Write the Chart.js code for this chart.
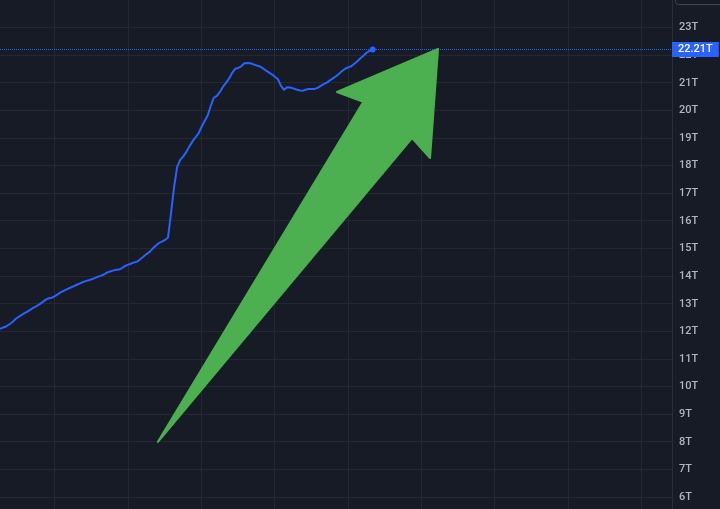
<!DOCTYPE html>
<html>
<head>
<meta charset="utf-8">
<script src="https://cdn.jsdelivr.net/npm/chart.js@4.4.1/dist/chart.umd.min.js"></script>
<style>
  html, body { margin: 0; padding: 0; background: #171b26; }
  #wrap { width: 720px; height: 509px; }
</style>
</head>
<body>
<div id="wrap"><canvas id="supplyChart" width="720" height="509"></canvas></div>
<script>
// Monthly observations, Jul 2015 - Sep 2025
const months = [
    '2015-07', '2015-08', '2015-09', '2015-10', '2015-11', '2015-12',
    '2016-01', '2016-02', '2016-03', '2016-04', '2016-05', '2016-06', '2016-07', '2016-08', '2016-09', '2016-10', '2016-11', '2016-12',
    '2017-01', '2017-02', '2017-03', '2017-04', '2017-05', '2017-06', '2017-07', '2017-08', '2017-09', '2017-10', '2017-11', '2017-12',
    '2018-01', '2018-02', '2018-03', '2018-04', '2018-05', '2018-06', '2018-07', '2018-08', '2018-09', '2018-10', '2018-11', '2018-12',
    '2019-01', '2019-02', '2019-03', '2019-04', '2019-05', '2019-06', '2019-07', '2019-08', '2019-09', '2019-10', '2019-11', '2019-12',
    '2020-01', '2020-02', '2020-03', '2020-04', '2020-05', '2020-06', '2020-07', '2020-08', '2020-09', '2020-10', '2020-11', '2020-12',
    '2021-01', '2021-02', '2021-03', '2021-04', '2021-05', '2021-06', '2021-07', '2021-08', '2021-09', '2021-10', '2021-11', '2021-12',
    '2022-01', '2022-02', '2022-03', '2022-04', '2022-05', '2022-06', '2022-07', '2022-08', '2022-09', '2022-10', '2022-11', '2022-12',
    '2023-01', '2023-02', '2023-03', '2023-04', '2023-05', '2023-06', '2023-07', '2023-08', '2023-09', '2023-10', '2023-11', '2023-12',
    '2024-01', '2024-02', '2024-03', '2024-04', '2024-05', '2024-06', '2024-07', '2024-08', '2024-09', '2024-10', '2024-11', '2024-12',
    '2025-01', '2025-02', '2025-03', '2025-04', '2025-05', '2025-06', '2025-07', '2025-08', '2025-09'
];

// Values in trillions
const supplyT = [
    12.09, 12.14, 12.18, 12.25, 12.33, 12.44,
    12.52, 12.59, 12.66, 12.72, 12.79, 12.86, 12.92, 12.99, 13.07, 13.15, 13.20, 13.22,
    13.28, 13.35, 13.42, 13.48, 13.53, 13.58, 13.63, 13.68, 13.73, 13.78, 13.82, 13.85,
    13.89, 13.93, 13.98, 14.01, 14.06, 14.13, 14.17, 14.20, 14.23, 14.24, 14.30, 14.37,
    14.42, 14.46, 14.50, 14.53, 14.62, 14.71, 14.80, 14.88, 15.00, 15.10, 15.20, 15.25,
    15.31, 15.40, 16.29, 17.23, 17.96, 18.21, 18.34, 18.50, 18.70, 18.88, 19.03, 19.17,
    19.41, 19.62, 19.82, 20.17, 20.46, 20.53, 20.67, 20.86, 21.00, 21.16, 21.36, 21.51,
    21.54, 21.60, 21.71, 21.72, 21.71, 21.67, 21.63, 21.60, 21.53, 21.45, 21.38, 21.31,
    21.22, 21.13, 20.89, 20.75, 20.84, 20.83, 20.80, 20.76, 20.73, 20.71, 20.75, 20.78,
    20.78, 20.78, 20.82, 20.89, 20.95, 21.01, 21.09, 21.16, 21.24, 21.33, 21.43, 21.51,
    21.56, 21.60, 21.69, 21.78, 21.89, 21.98, 22.09, 22.16, 22.21
];

// Time grid (every two years) and the right edge of the visible range
const gridMonths = ['2017-01', '2019-01', '2021-01', '2023-01', '2025-01', '2027-01', '2029-01', '2031-01', '2033-01'];
const viewEnd = '2033-11';

// Price scale tick labels
const yTicks = [6, 7, 8, 9, 10, 11, 12, 13, 14, 15, 16, 17, 18, 19, 20, 21, 22, 23];

// Month string -> position on the x axis (0 = first month)
function monthIndex(m) {
    const [y, mo] = m.split('-').map(Number);
    const [y0, mo0] = months[0].split('-').map(Number);
    return (y - y0) * 12 + (mo - mo0);
}

// Green arrow drawing, in chart units (month position, trillions)
const arrowShape = [
    [51.7, 8.0],    // tail
    [118.9, 20.31], // left shoulder
    [110.3, 20.67], // left barb
    [143.4, 22.23], // head tip
    [140.8, 18.28], // right barb
    [134.9, 19.0]   // right shoulder
];

const lineColor = '#2962ff';
const gridColor = '#242833';
const lastValue = supplyT[supplyT.length - 1];

// no extra room around the plot: it runs to the canvas edges
function noPadding(s) {
    s.paddingLeft = 0;
    s.paddingRight = 0;
    s.paddingTop = 0;
    s.paddingBottom = 0;
}

const drawingsPlugin = {
    id: 'drawings',
    beforeDraw(chart) {
        const ctx = chart.ctx;
        ctx.save();
        ctx.fillStyle = '#171b26';
        ctx.fillRect(0, 0, chart.width, chart.height);
        ctx.restore();
    },
    beforeDatasetsDraw(chart) {
        // dotted last-value line
        const ctx = chart.ctx;
        const area = chart.chartArea;
        const y = Math.round(chart.scales.y.getPixelForValue(lastValue)) + 0.5;
        ctx.save();
        ctx.strokeStyle = lineColor;
        ctx.lineWidth = 1;
        ctx.setLineDash([1, 1]);
        ctx.beginPath();
        ctx.moveTo(area.left, y);
        ctx.lineTo(area.right, y);
        ctx.stroke();
        ctx.restore();
    },
    afterDatasetsDraw(chart) {
        const ctx = chart.ctx;
        const xs = chart.scales.x;
        const ys = chart.scales.y;
        ctx.save();
        ctx.fillStyle = '#4caf50';
        ctx.strokeStyle = '#4caf50';
        ctx.lineWidth = 2;
        ctx.lineJoin = 'round';
        ctx.beginPath();
        arrowShape.forEach(([mx, v], i) => {
            const px = xs.getPixelForValue(mx);
            const py = ys.getPixelForValue(v);
            if (i === 0) ctx.moveTo(px, py); else ctx.lineTo(px, py);
        });
        ctx.closePath();
        ctx.fill();
        ctx.stroke();
        ctx.restore();
    },
    afterDraw(chart) {
        const ctx = chart.ctx;
        const ys = chart.scales.y;
        const y = ys.getPixelForValue(lastValue);
        const text = lastValue.toFixed(2) + 'T';
        ctx.save();
        ctx.font = '500 11px Roboto';
        const w = ctx.measureText(text).width + 12;
        ctx.fillStyle = lineColor;
        ctx.fillRect(ys.left, Math.round(y) - 7, w, 15);
        ctx.fillStyle = '#ffffff';
        ctx.textBaseline = 'middle';
        ctx.textAlign = 'left';
        ctx.fillText(text, ys.left + 6, Math.round(y) + 0.5);

        // edge of the toolbar button above the scale
        ctx.strokeStyle = '#434651';
        ctx.lineWidth = 1;
        ctx.beginPath();
        ctx.roundRect(ys.left + 3.5, -10, 60, 14.5, 3);
        ctx.stroke();
        ctx.restore();
    }
};

new Chart(document.getElementById('supplyChart'), {
    type: 'line',
    data: {
        datasets: [{
            label: 'Supply',
            data: months.map((m, i) => ({ x: i, y: supplyT[i] })),
            borderColor: lineColor,
            borderWidth: 2,
            borderJoinStyle: 'round',
            tension: 0,
            fill: false,
            pointRadius: ctx => ctx.dataIndex === supplyT.length - 1 ? 3 : 0,
            pointBackgroundColor: lineColor,
            pointBorderWidth: 0
        }]
    },
    options: {
        responsive: false,
        animation: false,
        devicePixelRatio: 1,
        layout: { padding: 0, autoPadding: false },
        scales: {
            x: {
                type: 'linear',
                min: 0,
                max: monthIndex(viewEnd),
                afterBuildTicks: s => { s.ticks = gridMonths.map(m => ({ value: monthIndex(m) })); },
                afterFit: s => { s.height = 0; noPadding(s); },
                grid: { color: gridColor, drawTicks: false },
                border: { display: false },
                ticks: { display: false }
            },
            y: {
                position: 'right',
                min: 5.57,
                max: 24.0,
                afterBuildTicks: s => { s.ticks = yTicks.map(v => ({ value: v })); },
                afterFit: s => { s.width = 48; noPadding(s); },
                grid: { color: gridColor, drawTicks: false },
                border: { display: true, color: '#2a2e39' },
                ticks: {
                    color: '#b2b5be',
                    padding: 7,
                    font: { family: 'Roboto', size: 11, weight: '500' },
                    callback: v => v + 'T'
                }
            }
        },
        plugins: {
            legend: { display: false },
            tooltip: { enabled: false }
        }
    },
    plugins: [drawingsPlugin]
});
</script>
</body>
</html>
